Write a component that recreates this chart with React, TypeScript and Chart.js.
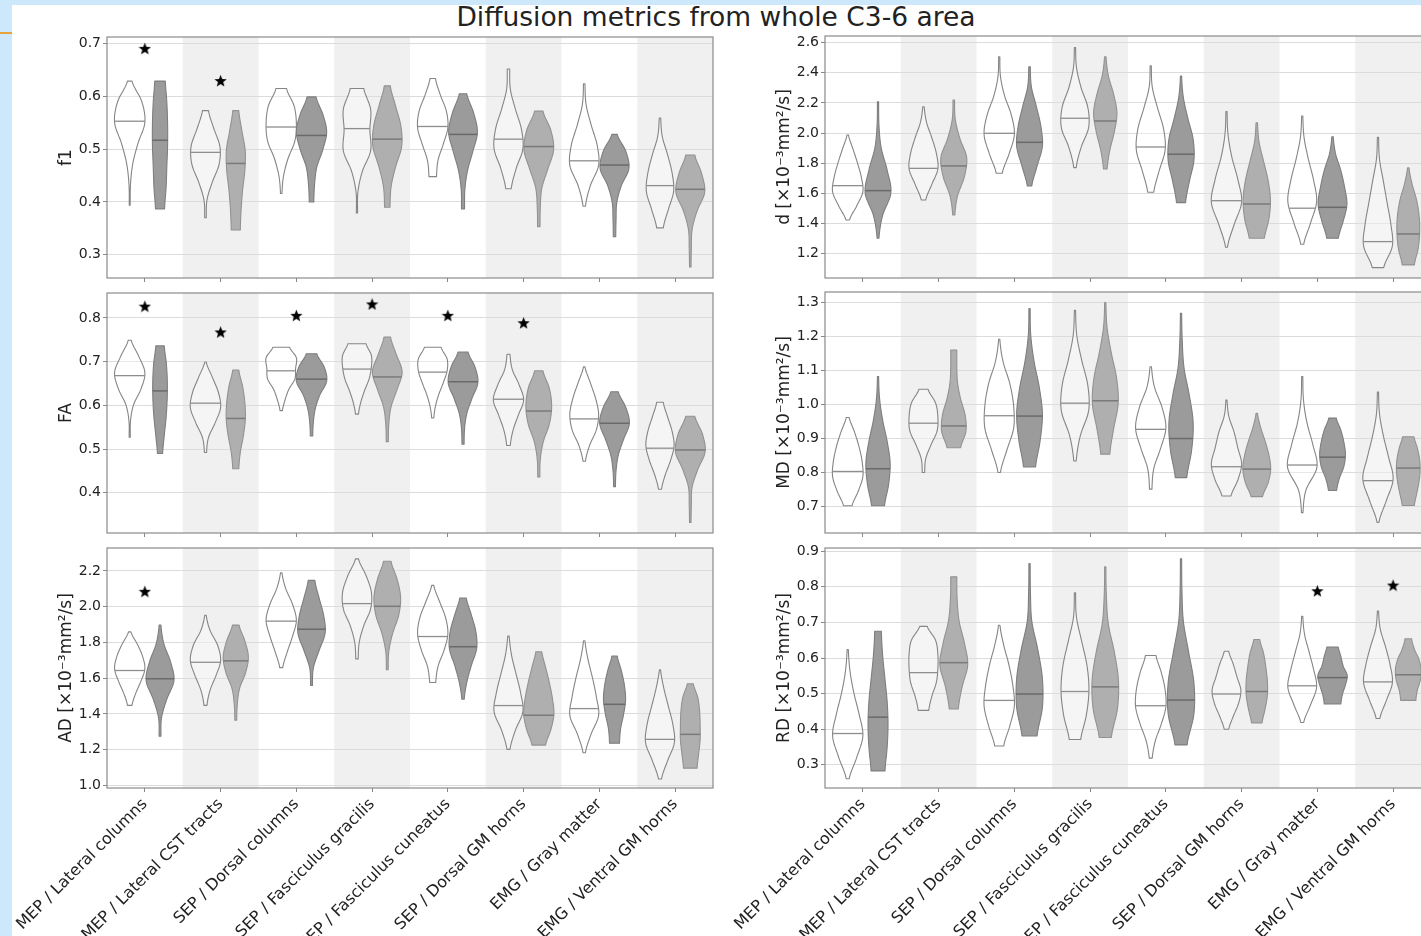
import React, { useEffect, useRef } from "react";
import { Chart, registerables } from "chart.js";
Chart.register(...registerables);

const FONT = "'DejaVu Sans', 'Liberation Sans', sans-serif";

const categories = [
  "MEP / Lateral columns",
  "MEP / Lateral CST tracts",
  "SEP / Dorsal columns",
  "SEP / Fasciculus gracilis",
  "SEP / Fasciculus cuneatus",
  "SEP / Dorsal GM horns",
  "EMG / Gray matter",
  "EMG / Ventral GM horns",
];

// Each violin: [min, max, median, relative half-widths sampled evenly from max down to min]
type Violin = [number, number, number, number[]];

const f1GroupA: Violin[] = [
  [0.394, 0.629, 0.553, [0.15, 0.8, 1.0, 0.55, 0.2, 0.05, 0.03]],
  [0.370, 0.573, 0.494, [0.2, 0.55, 0.95, 0.9, 0.45, 0.1, 0.05]],
  [0.416, 0.615, 0.542, [0.35, 0.85, 1.0, 0.9, 0.45, 0.15, 0.05]],
  [0.379, 0.615, 0.539, [0.45, 0.9, 0.85, 0.9, 0.35, 0.06, 0.04]],
  [0.448, 0.634, 0.543, [0.18, 0.5, 0.9, 1.0, 0.7, 0.35, 0.25]],
  [0.425, 0.652, 0.519, [0.08, 0.12, 0.45, 0.85, 0.95, 0.5, 0.18]],
  [0.392, 0.624, 0.478, [0.05, 0.12, 0.45, 0.85, 0.95, 0.4, 0.08]],
  [0.351, 0.559, 0.431, [0.05, 0.15, 0.5, 0.8, 0.9, 0.55, 0.22]],
];
const f1GroupB: Violin[] = [
  [0.387, 0.629, 0.517, [0.35, 0.45, 0.5, 0.5, 0.45, 0.4, 0.3]],
  [0.347, 0.573, 0.473, [0.2, 0.4, 0.62, 0.6, 0.45, 0.35, 0.3]],
  [0.400, 0.599, 0.526, [0.3, 0.75, 1.0, 0.75, 0.35, 0.2, 0.15]],
  [0.390, 0.620, 0.519, [0.2, 0.55, 0.9, 0.95, 0.55, 0.25, 0.18]],
  [0.387, 0.605, 0.528, [0.25, 0.7, 0.95, 0.65, 0.3, 0.12, 0.1]],
  [0.353, 0.572, 0.505, [0.28, 0.8, 0.98, 0.6, 0.2, 0.1, 0.08]],
  [0.334, 0.528, 0.470, [0.18, 0.75, 0.95, 0.45, 0.15, 0.1, 0.08]],
  [0.277, 0.489, 0.424, [0.3, 0.75, 0.95, 0.45, 0.12, 0.07, 0.05]],
];
const f1Stars: [number, number][] = [[0, 0.691], [1, 0.630]];
const f1Range = [0.256, 0.7125, 0.1];

const faGroupA: Violin[] = [
  [0.527, 0.749, 0.668, [0.1, 0.6, 1.0, 0.75, 0.25, 0.05, 0.04]],
  [0.492, 0.699, 0.605, [0.05, 0.45, 0.85, 1.0, 0.65, 0.2, 0.07]],
  [0.588, 0.733, 0.679, [0.55, 1.0, 0.95, 0.9, 0.5, 0.25, 0.08]],
  [0.580, 0.741, 0.683, [0.6, 0.95, 0.95, 0.8, 0.5, 0.25, 0.1]],
  [0.571, 0.733, 0.676, [0.55, 0.95, 0.95, 0.7, 0.4, 0.18, 0.07]],
  [0.508, 0.717, 0.614, [0.1, 0.25, 0.7, 1.0, 0.65, 0.3, 0.12]],
  [0.472, 0.688, 0.569, [0.05, 0.4, 0.75, 0.95, 0.8, 0.35, 0.08]],
  [0.408, 0.607, 0.502, [0.22, 0.5, 0.8, 0.93, 0.7, 0.35, 0.1]],
];
const faGroupB: Violin[] = [
  [0.490, 0.736, 0.633, [0.28, 0.42, 0.48, 0.47, 0.4, 0.28, 0.17]],
  [0.455, 0.681, 0.570, [0.2, 0.45, 0.6, 0.63, 0.5, 0.3, 0.2]],
  [0.530, 0.718, 0.660, [0.35, 0.85, 1.0, 0.55, 0.25, 0.12, 0.08]],
  [0.517, 0.756, 0.665, [0.22, 0.6, 0.98, 0.65, 0.25, 0.1, 0.07]],
  [0.511, 0.722, 0.654, [0.33, 0.8, 0.98, 0.6, 0.25, 0.1, 0.07]],
  [0.436, 0.679, 0.587, [0.28, 0.7, 0.85, 0.7, 0.3, 0.1, 0.07]],
  [0.414, 0.631, 0.559, [0.25, 0.75, 0.98, 0.6, 0.25, 0.1, 0.06]],
  [0.332, 0.575, 0.498, [0.3, 0.8, 0.98, 0.5, 0.12, 0.07, 0.05]],
];
const faStars: [number, number][] = [[0, 0.827], [1, 0.768], [2, 0.806], [3, 0.832], [4, 0.806], [5, 0.789]];
const faRange = [0.308, 0.857, 0.1];

const adGroupA: Violin[] = [
  [1.448, 1.859, 1.643, [0.08, 0.5, 0.85, 1.0, 0.75, 0.4, 0.15]],
  [1.448, 1.952, 1.689, [0.05, 0.3, 0.8, 1.0, 0.7, 0.3, 0.1]],
  [1.659, 2.189, 1.919, [0.05, 0.3, 0.75, 1.0, 0.75, 0.4, 0.1]],
  [1.708, 2.267, 2.017, [0.1, 0.6, 0.95, 0.9, 0.45, 0.15, 0.08]],
  [1.576, 2.119, 1.833, [0.07, 0.45, 0.85, 1.0, 0.75, 0.35, 0.2]],
  [1.202, 1.835, 1.447, [0.05, 0.2, 0.5, 0.8, 0.95, 0.45, 0.1]],
  [1.183, 1.809, 1.430, [0.05, 0.25, 0.55, 0.8, 0.95, 0.45, 0.08]],
  [1.036, 1.647, 1.258, [0.04, 0.25, 0.55, 0.85, 0.95, 0.5, 0.1]],
];
const adGroupB: Violin[] = [
  [1.276, 1.897, 1.597, [0.06, 0.25, 0.7, 0.92, 0.45, 0.1, 0.06]],
  [1.365, 1.897, 1.697, [0.22, 0.6, 0.83, 0.65, 0.25, 0.1, 0.06]],
  [1.559, 2.147, 1.874, [0.22, 0.5, 0.8, 0.9, 0.5, 0.12, 0.06]],
  [1.647, 2.254, 2.002, [0.25, 0.65, 0.88, 0.75, 0.35, 0.1, 0.06]],
  [1.483, 2.048, 1.776, [0.22, 0.55, 0.85, 0.9, 0.55, 0.25, 0.08]],
  [1.226, 1.748, 1.393, [0.2, 0.45, 0.7, 0.9, 1.0, 0.8, 0.45]],
  [1.236, 1.724, 1.454, [0.18, 0.45, 0.65, 0.73, 0.6, 0.4, 0.33]],
  [1.097, 1.569, 1.286, [0.2, 0.5, 0.62, 0.65, 0.65, 0.55, 0.45]],
];
const adStars: [number, number][] = [[0, 2.086]];
const adRange = [0.986, 2.328, 0.2];

const dGroupA: Violin[] = [
  [1.422, 1.987, 1.650, [0.05, 0.35, 0.65, 0.9, 1.0, 0.6, 0.12]],
  [1.555, 2.175, 1.765, [0.05, 0.2, 0.55, 0.85, 0.95, 0.55, 0.15]],
  [1.732, 2.507, 1.998, [0.04, 0.08, 0.35, 0.8, 1.0, 0.65, 0.2]],
  [1.770, 2.569, 2.098, [0.04, 0.1, 0.4, 0.85, 0.9, 0.4, 0.08]],
  [1.606, 2.447, 1.907, [0.04, 0.1, 0.45, 0.85, 0.95, 0.55, 0.2]],
  [1.240, 2.142, 1.550, [0.04, 0.1, 0.35, 0.75, 1.0, 0.5, 0.06]],
  [1.260, 2.113, 1.500, [0.04, 0.12, 0.4, 0.75, 0.95, 0.55, 0.1]],
  [1.105, 1.971, 1.278, [0.04, 0.1, 0.35, 0.6, 0.85, 0.95, 0.38]],
];
const dGroupB: Violin[] = [
  [1.300, 2.208, 1.617, [0.04, 0.06, 0.2, 0.6, 0.85, 0.3, 0.06]],
  [1.455, 2.219, 1.781, [0.05, 0.1, 0.4, 0.85, 0.7, 0.25, 0.07]],
  [1.648, 2.441, 1.938, [0.05, 0.12, 0.45, 0.75, 0.85, 0.5, 0.15]],
  [1.761, 2.507, 2.080, [0.05, 0.2, 0.55, 0.77, 0.6, 0.3, 0.12]],
  [1.537, 2.379, 1.859, [0.04, 0.15, 0.45, 0.8, 0.85, 0.55, 0.3]],
  [1.300, 2.068, 1.528, [0.05, 0.15, 0.45, 0.75, 0.9, 0.8, 0.5]],
  [1.300, 1.975, 1.506, [0.05, 0.2, 0.55, 0.8, 0.95, 0.7, 0.38]],
  [1.123, 1.769, 1.329, [0.05, 0.25, 0.55, 0.72, 0.75, 0.65, 0.4]],
];
const dStars: [number, number][] = [];
const dRange = [1.036, 2.645, 0.2];

const mdGroupA: Violin[] = [
  [0.702, 0.962, 0.803, [0.1, 0.45, 0.75, 0.95, 1.0, 0.7, 0.28]],
  [0.800, 1.045, 0.945, [0.3, 0.8, 0.95, 0.9, 0.5, 0.15, 0.08]],
  [0.800, 1.192, 0.967, [0.04, 0.25, 0.7, 0.95, 0.95, 0.5, 0.08]],
  [0.834, 1.277, 1.004, [0.04, 0.12, 0.45, 0.85, 0.9, 0.35, 0.08]],
  [0.751, 1.111, 0.927, [0.05, 0.25, 0.75, 1.0, 0.65, 0.2, 0.08]],
  [0.731, 1.013, 0.817, [0.04, 0.15, 0.5, 0.75, 1.0, 0.75, 0.3]],
  [0.682, 1.082, 0.822, [0.04, 0.08, 0.3, 0.7, 0.97, 0.25, 0.05]],
  [0.653, 1.037, 0.776, [0.04, 0.1, 0.35, 0.7, 1.0, 0.55, 0.06]],
];
const mdGroupB: Violin[] = [
  [0.702, 1.082, 0.811, [0.04, 0.1, 0.3, 0.6, 0.8, 0.7, 0.43]],
  [0.873, 1.160, 0.937, [0.2, 0.2, 0.25, 0.45, 0.75, 0.8, 0.45]],
  [0.816, 1.282, 0.966, [0.04, 0.08, 0.3, 0.65, 0.85, 0.7, 0.4]],
  [0.854, 1.300, 1.011, [0.04, 0.12, 0.4, 0.75, 0.85, 0.55, 0.3]],
  [0.785, 1.268, 0.900, [0.04, 0.08, 0.2, 0.55, 0.8, 0.7, 0.38]],
  [0.729, 0.974, 0.810, [0.05, 0.25, 0.55, 0.8, 0.92, 0.75, 0.38]],
  [0.747, 0.960, 0.845, [0.25, 0.55, 0.75, 0.85, 0.75, 0.45, 0.27]],
  [0.703, 0.905, 0.813, [0.38, 0.6, 0.75, 0.78, 0.7, 0.55, 0.4]],
];
const mdStars: [number, number][] = [];
const mdRange = [0.622, 1.331, 0.1];

const rdGroupA: Violin[] = [
  [0.261, 0.624, 0.388, [0.04, 0.15, 0.4, 0.75, 1.0, 0.6, 0.1]],
  [0.453, 0.689, 0.559, [0.25, 0.8, 0.95, 0.95, 0.85, 0.55, 0.35]],
  [0.353, 0.692, 0.481, [0.05, 0.3, 0.65, 0.9, 1.0, 0.7, 0.3]],
  [0.371, 0.783, 0.506, [0.04, 0.1, 0.45, 0.8, 0.92, 0.75, 0.38]],
  [0.319, 0.607, 0.466, [0.35, 0.7, 0.95, 1.0, 0.7, 0.3, 0.1]],
  [0.400, 0.619, 0.499, [0.15, 0.45, 0.7, 0.95, 0.8, 0.45, 0.15]],
  [0.419, 0.717, 0.522, [0.04, 0.15, 0.45, 0.75, 0.95, 0.55, 0.1]],
  [0.430, 0.732, 0.533, [0.04, 0.15, 0.5, 0.8, 0.95, 0.55, 0.12]],
];
const rdGroupB: Violin[] = [
  [0.283, 0.675, 0.434, [0.22, 0.3, 0.45, 0.6, 0.66, 0.6, 0.46]],
  [0.457, 0.828, 0.587, [0.2, 0.22, 0.35, 0.7, 0.92, 0.55, 0.3]],
  [0.381, 0.865, 0.499, [0.04, 0.06, 0.15, 0.55, 0.85, 0.85, 0.5]],
  [0.377, 0.856, 0.519, [0.04, 0.07, 0.2, 0.6, 0.87, 0.8, 0.4]],
  [0.356, 0.879, 0.482, [0.04, 0.06, 0.15, 0.5, 0.85, 0.85, 0.4]],
  [0.418, 0.652, 0.506, [0.2, 0.45, 0.6, 0.7, 0.7, 0.55, 0.35]],
  [0.471, 0.631, 0.545, [0.38, 0.55, 0.7, 0.97, 0.85, 0.65, 0.55]],
  [0.481, 0.654, 0.553, [0.22, 0.4, 0.7, 0.85, 0.8, 0.6, 0.5]],
];
const rdStars: [number, number][] = [[6, 0.789], [7, 0.805]];
const rdRange = [0.235, 0.909, 0.1];

const UNITS = " [×10⁻³mm²/s]";

interface PanelSpec {
  key: string; col: number; row: number; yTitle: string; range: number[];
  groupA: Violin[]; groupB: Violin[]; stars: [number, number][];
}

const panelSpecs: PanelSpec[] = [
  { key: "f1", col: 0, row: 0, yTitle: "f1", range: f1Range, groupA: f1GroupA, groupB: f1GroupB, stars: f1Stars },
  { key: "fa", col: 0, row: 1, yTitle: "FA", range: faRange, groupA: faGroupA, groupB: faGroupB, stars: faStars },
  { key: "ad", col: 0, row: 2, yTitle: "AD" + UNITS, range: adRange, groupA: adGroupA, groupB: adGroupB, stars: adStars },
  { key: "d", col: 1, row: 0, yTitle: "d" + UNITS, range: dRange, groupA: dGroupA, groupB: dGroupB, stars: dStars },
  { key: "md", col: 1, row: 1, yTitle: "MD" + UNITS, range: mdRange, groupA: mdGroupA, groupB: mdGroupB, stars: mdStars },
  { key: "rd", col: 1, row: 2, yTitle: "RD" + UNITS, range: rdRange, groupA: rdGroupA, groupB: rdGroupB, stars: rdStars },
];

const COLS = [
  { left: 12, width: 720, yW: 95, padR: 19, titlePad: 44.5 },
  { left: 732, width: 708, yW: 93, padR: 9, titlePad: 42.5 },
];
const ROWS = [
  { top: 30, height: 256, padT: 6, xH: 8 },
  { top: 286, height: 255, padT: 6, xH: 8 },
  { top: 541, height: 395, padT: 5, xH: 148 },
];

function widthAt(w: number[], t: number): number {
  const n = w.length;
  const k = Math.min(Math.max(Math.floor(t), 0), n - 2);
  const f = t - k;
  const p0 = w[Math.max(k - 1, 0)], p1 = w[k], p2 = w[k + 1], p3 = w[Math.min(k + 2, n - 1)];
  const m1 = (p2 - p0) / 2, m2 = (p3 - p1) / 2;
  const f2 = f * f, f3 = f2 * f;
  const v = (2 * f3 - 3 * f2 + 1) * p1 + (f3 - 2 * f2 + f) * m1 + (-2 * f3 + 3 * f2) * p2 + (f3 - f2) * m2;
  return Math.max(0.03, v);
}

function drawViolin(ctx: CanvasRenderingContext2D, y: any, cx: number, unit: number, v: Violin,
  fill: string, stroke: string, medColor: string, medWidth: number) {
  const [lo, hi, med, w] = v;
  const n = w.length;
  const N = 60;
  const pts: [number, number][] = [];
  for (let s = 0; s <= N; s++) {
    const t = (s / N) * (n - 1);
    const val = hi - ((hi - lo) * s) / N;
    pts.push([y.getPixelForValue(val), widthAt(w, t) * unit]);
  }
  ctx.beginPath();
  pts.forEach(([py, hw], i) => (i === 0 ? ctx.moveTo(cx + hw, py) : ctx.lineTo(cx + hw, py)));
  for (let i = pts.length - 1; i >= 0; i--) ctx.lineTo(cx - pts[i][1], pts[i][0]);
  ctx.closePath();
  ctx.fillStyle = fill;
  ctx.fill();
  ctx.lineWidth = 1.1;
  ctx.strokeStyle = stroke;
  ctx.stroke();
  const tm = ((hi - med) / (hi - lo)) * (n - 1);
  const hwm = widthAt(w, tm) * unit;
  const pm = y.getPixelForValue(med);
  ctx.beginPath();
  ctx.moveTo(cx - hwm, pm);
  ctx.lineTo(cx + hwm, pm);
  ctx.lineWidth = medWidth;
  ctx.strokeStyle = medColor;
  ctx.stroke();
}

function violinPlugin(spec: PanelSpec) {
  return {
    id: "violins_" + spec.key,
    beforeDraw(chart: any) {
      const { ctx, chartArea: a, scales } = chart;
      const x = scales.x;
      ctx.save();
      ctx.fillStyle = "#f0f0f0";
      categories.forEach((_, i) => {
        if (i % 2 === 1) {
          const l = x.getPixelForValue(i - 0.5);
          const r = x.getPixelForValue(i + 0.5);
          ctx.fillRect(l, a.top, r - l, a.bottom - a.top);
        }
      });
      ctx.restore();
    },
    beforeDatasetsDraw(chart: any) {
      const { ctx, chartArea: a, scales } = chart;
      const x = scales.x, y = scales.y;
      const unit = (x.getPixelForValue(1) - x.getPixelForValue(0)) * 0.2;
      ctx.save();
      ctx.beginPath();
      ctx.rect(a.left, a.top, a.right - a.left, a.bottom - a.top);
      ctx.clip();
      ctx.lineJoin = "round";
      categories.forEach((_, i) => {
        const ca = x.getPixelForValue(i - 0.2);
        const cb = x.getPixelForValue(i + 0.2);
        drawViolin(ctx, y, ca, unit, spec.groupA[i], "rgba(255,255,255,0.35)", "#858585", "#8e8e8e", 1.3);
        const dark = i % 2 === 0;
        drawViolin(ctx, y, cb, unit, spec.groupB[i], dark ? "#9b9b9b" : "#afafaf",
          dark ? "#7e7e7e" : "#929292", dark ? "#6a6a6a" : "#7a7a7a", 1.5);
      });
      ctx.restore();
    },
    afterDraw(chart: any) {
      const { ctx, chartArea: a } = chart;
      ctx.save();
      ctx.strokeStyle = "#8a8a8a";
      ctx.lineWidth = 1.2;
      ctx.strokeRect(a.left, a.top, a.right - a.left, a.bottom - a.top);
      ctx.restore();
    },
  };
}

function makeStar(size: number): HTMLCanvasElement {
  const c = document.createElement("canvas");
  c.width = size;
  c.height = size;
  const g = c.getContext("2d")!;
  const R = size / 2, r = R * 0.42, cx = size / 2, cy = size / 2 + R * 0.1;
  g.fillStyle = "#000";
  g.beginPath();
  for (let k = 0; k < 10; k++) {
    const ang = -Math.PI / 2 + (k * Math.PI) / 5;
    const rad = k % 2 === 0 ? R : r;
    const px = cx + rad * Math.cos(ang), py = cy + rad * Math.sin(ang);
    if (k === 0) g.moveTo(px, py); else g.lineTo(px, py);
  }
  g.closePath();
  g.fill();
  return c;
}

function Panel({ spec }: { spec: PanelSpec }) {
  const ref = useRef<HTMLCanvasElement>(null);
  const col = COLS[spec.col];
  const row = ROWS[spec.row];
  useEffect(() => {
    const showLabels = spec.row === 2;
    const star = makeStar(13);
    const chart = new Chart(ref.current!, {
      type: "scatter",
      data: {
        datasets: [{
          data: spec.stars.map(([i, v]) => ({ x: categories[i], y: v })) as any,
          pointStyle: star as any,
          pointRadius: 6,
          pointHoverRadius: 6,
        }],
      },
      options: {
        responsive: false,
        animation: false,
        events: [],
        layout: { padding: { top: row.padT, right: col.padR, bottom: 0, left: 0 } },
        plugins: { legend: { display: false }, tooltip: { enabled: false } },
        scales: {
          x: {
            type: "category",
            labels: categories,
            offset: true,
            grid: { offset: false, drawOnChartArea: false, drawTicks: true, tickLength: 4, tickColor: "#888" },
            border: { display: false },
            ticks: {
              display: showLabels, autoSkip: false, minRotation: 45, maxRotation: 45, padding: 3,
              color: "#222", font: { family: FONT, size: 16 },
            },
            afterFit: (s: any) => { s.height = row.xH; s.paddingLeft = 0; s.paddingRight = 0; },
          } as any,
          y: {
            type: "linear",
            min: spec.range[0],
            max: spec.range[1],
            grid: { color: "#dcdcdc", lineWidth: 1, tickLength: 4, tickColor: "#888" },
            border: { display: false },
            ticks: {
              stepSize: spec.range[2], includeBounds: false, padding: 2, color: "#222",
              font: { family: FONT, size: 14 },
              callback: (v: any) => Number(v).toFixed(1),
            },
            title: {
              display: true, text: spec.yTitle, color: "#222",
              font: { family: FONT, size: 17 },
              padding: { top: col.titlePad, bottom: 0 },
            },
            afterFit: (s: any) => { s.width = col.yW; s.paddingTop = 0; s.paddingBottom = 0; },
          } as any,
        },
      },
      plugins: [violinPlugin(spec)],
    });
    return () => chart.destroy();
  }, [spec]);
  return (
    <canvas
      ref={ref}
      width={col.width}
      height={row.height}
      style={{ position: "absolute", left: col.left, top: row.top, width: col.width, height: row.height }}
    />
  );
}

export default function App() {
  return (
    <div style={{ position: "fixed", left: 0, top: 0, width: 1421, height: 936, overflow: "hidden", background: "#fff", fontFamily: FONT }}>
      <div style={{ position: "absolute", left: 0, top: 0, width: 12, height: 936, background: "#cde8fa" }} />
      <div style={{ position: "absolute", left: 0, top: 0, width: 1421, height: 5, background: "#cde8fa" }} />
      <div style={{ position: "absolute", left: 0, top: 32, width: 12, height: 2, background: "#e9a23b" }} />
      <div style={{
        position: "absolute", left: 716, top: 3.6, transform: "translateX(-50%)", whiteSpace: "nowrap",
        fontSize: 26.5, lineHeight: "26.5px", color: "#222", fontFamily: FONT,
      }}>Diffusion metrics from whole C3-6 area</div>
      {panelSpecs.map((p) => <Panel key={p.key} spec={p} />)}
    </div>
  );
}
